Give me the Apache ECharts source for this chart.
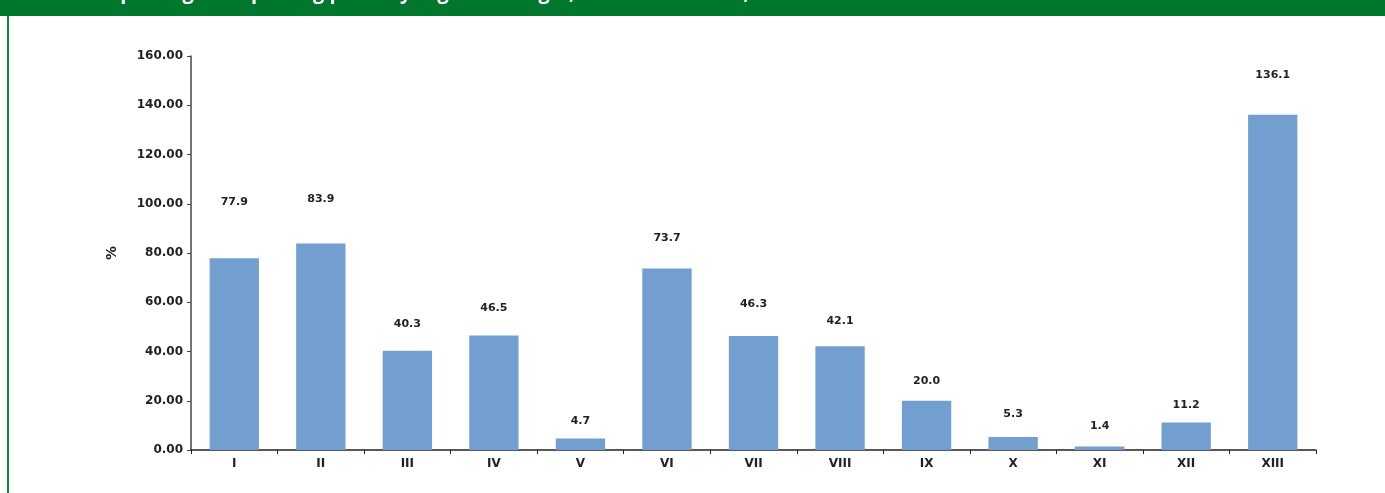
<!DOCTYPE html>
<html>
<head>
<meta charset="utf-8">
<script src="https://cdn.jsdelivr.net/npm/echarts@6/dist/echarts.min.js"></script>
<style>
  html, body { margin: 0; padding: 0; background: #fff; }
  #chart { width: 1385px; height: 493px; }
</style>
</head>
<body>
<div id="chart"></div>
<script>
// Region codes along the x axis
const regions = ['I', 'II', 'III', 'IV', 'V', 'VI', 'VII', 'VIII', 'IX', 'X', 'XI', 'XII', 'XIII'];
// Share per region, %
const shares = [77.9, 83.9, 40.3, 46.5, 4.7, 73.7, 46.3, 42.1, 20.0, 5.3, 1.4, 11.2, 136.1];
// Value-axis range and step
const yMin = 0, yMax = 160, yStep = 20;

// Vertical gap between each bar top and its value label (px)
const labelGap = [51, 39, 21, 22, 12, 25, 26, 20, 14, 17, 15, 12, 34];

const FONT = '"DejaVu Sans", Verdana, sans-serif';
const chart = echarts.init(document.getElementById('chart'), null, { renderer: 'canvas' });

chart.setOption({
  backgroundColor: '#ffffff',
  animation: false,
  graphic: [
    { type: 'rect', left: 0, top: 0, shape: { width: 1385, height: 16 }, style: { fill: '#00772d' }, z: 10 },
    { type: 'rect', left: 7, top: 16, shape: { width: 2, height: 477 }, style: { fill: '#0d8a3a' }, z: 10 },
    {
      type: 'text', left: 14, top: -17, z: 11,
      style: {
        text: 'Ratio of exporting to importing ports by region of origin, container traffic, %',
        fill: '#ffffff',
        font: 'bold 20px "Open Sans", sans-serif'
      }
    }
  ],
  grid: { left: 191, right: 69, top: 56, bottom: 43 },
  xAxis: {
    type: 'category',
    data: regions,
    axisLine: { lineStyle: { color: '#222', width: 1.5 } },
    axisTick: { show: true, length: 4, lineStyle: { color: '#222' } },
    axisLabel: { color: '#222', fontWeight: 'bold', fontSize: 12, fontFamily: FONT, margin: 8 }
  },
  yAxis: {
    type: 'value',
    min: yMin, max: yMax, interval: yStep,
    name: '%',
    nameLocation: 'middle',
    nameRotate: 90,
    nameGap: 72,
    nameTextStyle: { color: '#222', fontWeight: 'bold', fontSize: 14, fontFamily: FONT },
    axisLine: { show: true, lineStyle: { color: '#444', width: 1.5 } },
    axisTick: { show: true, length: 4, lineStyle: { color: '#444' } },
    splitLine: { show: false },
    axisLabel: {
      color: '#222', fontWeight: 'bold', fontSize: 12, fontFamily: FONT, margin: 8,
      formatter: v => v.toFixed(2)
    }
  },
  series: [{
    type: 'bar',
    data: shares.map((v, i) => ({ value: v, label: { distance: labelGap[i] } })),
    barCategoryGap: '43%',
    itemStyle: { color: '#729fcf' },
    label: {
      show: true,
      position: 'top',
      color: '#222',
      fontWeight: 'bold',
      fontSize: 11,
      fontFamily: FONT,
      formatter: p => p.value.toFixed(1)
    }
  }]
});
</script>
</body>
</html>
